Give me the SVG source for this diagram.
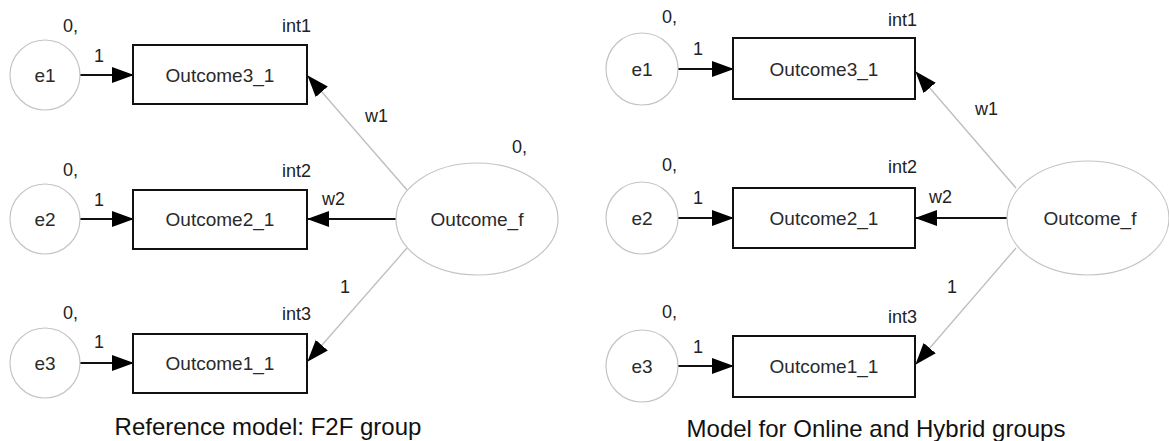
<svg xmlns="http://www.w3.org/2000/svg" width="1169" height="441" viewBox="0 0 1169 441">
<style>
text{font-family:"Liberation Sans",Arial,sans-serif;fill:#222}
.nl{font-size:19px;text-anchor:middle;fill:#2a2a2a}
.lb{font-size:18px}
.cap{font-size:24px;text-anchor:middle;fill:#111}
.lat{fill:#fff;stroke:#c4c4c4;stroke-width:1.2}
.obs{fill:#fff;stroke:#111;stroke-width:2}
.blk{stroke:#111;stroke-width:2;fill:none}
.gry{stroke:#bdbdbd;stroke-width:1.3;fill:none}
</style>
<defs>
<marker id="ah" viewBox="0 0 22 16" refX="21" refY="8" markerWidth="22" markerHeight="16" markerUnits="userSpaceOnUse" orient="auto">
<path d="M0,0 L22,8 L0,16 z" fill="#000"/>
</marker>
</defs>
<rect width="1169" height="441" fill="#fff"/>

<g id="connectors">
<line class="blk" x1="80" y1="75" x2="133" y2="75" marker-end="url(#ah)"/>
<line class="blk" x1="80" y1="219" x2="133" y2="219" marker-end="url(#ah)"/>
<line class="blk" x1="80" y1="363" x2="133" y2="363" marker-end="url(#ah)"/>
<line class="gry" x1="407" y1="190" x2="308" y2="76" marker-end="url(#ah)"/>
<line class="blk" x1="396" y1="219" x2="308" y2="219" marker-end="url(#ah)"/>
<line class="gry" x1="407" y1="248" x2="308" y2="361" marker-end="url(#ah)"/>
<line class="blk" x1="678" y1="69" x2="733" y2="69" marker-end="url(#ah)"/>
<line class="blk" x1="678" y1="218" x2="733" y2="218" marker-end="url(#ah)"/>
<line class="blk" x1="678" y1="366" x2="733" y2="366" marker-end="url(#ah)"/>
<line class="gry" x1="1016" y1="188" x2="916" y2="72" marker-end="url(#ah)"/>
<line class="blk" x1="1007" y1="218" x2="916" y2="218" marker-end="url(#ah)"/>
<line class="gry" x1="1016" y1="248" x2="916" y2="364" marker-end="url(#ah)"/>
</g>

<g id="edge-labels">
<text class="lb" x="94" y="62">1</text>
<text class="lb" x="94" y="206">1</text>
<text class="lb" x="94" y="348">1</text>
<text class="lb" x="365" y="122">w1</text>
<text class="lb" x="322" y="205">w2</text>
<text class="lb" x="340" y="293">1</text>
<text class="lb" x="693" y="55">1</text>
<text class="lb" x="693" y="204">1</text>
<text class="lb" x="693" y="353">1</text>
<text class="lb" x="975" y="115">w1</text>
<text class="lb" x="929" y="203">w2</text>
<text class="lb" x="947" y="293">1</text>
</g>

<g id="L-e1"><circle class="lat" cx="45" cy="75" r="35"/><text class="nl" x="45" y="82">e1</text><text class="lb" x="63" y="32">0,</text></g>
<g id="L-e2"><circle class="lat" cx="45" cy="219" r="35"/><text class="nl" x="45" y="226">e2</text><text class="lb" x="63" y="176">0,</text></g>
<g id="L-e3"><circle class="lat" cx="45" cy="363" r="35"/><text class="nl" x="45" y="370">e3</text><text class="lb" x="63" y="319">0,</text></g>
<g id="L-out3"><rect class="obs" x="133" y="45" width="174" height="59"/><text class="nl" x="220" y="82">Outcome3_1</text><text class="lb" x="282" y="32">int1</text></g>
<g id="L-out2"><rect class="obs" x="133" y="190" width="174" height="59"/><text class="nl" x="220" y="226">Outcome2_1</text><text class="lb" x="282" y="177">int2</text></g>
<g id="L-out1"><rect class="obs" x="133" y="334" width="174" height="59"/><text class="nl" x="220" y="370">Outcome1_1</text><text class="lb" x="282" y="320">int3</text></g>
<g id="L-outf"><ellipse class="lat" cx="477" cy="219" rx="81" ry="56"/><text class="nl" x="477" y="226">Outcome_f</text><text class="lb" x="512" y="153">0,</text></g>

<g id="R-e1"><circle class="lat" cx="642" cy="69" r="36"/><text class="nl" x="642" y="76">e1</text><text class="lb" x="662" y="23">0,</text></g>
<g id="R-e2"><circle class="lat" cx="642" cy="218" r="36"/><text class="nl" x="642" y="225">e2</text><text class="lb" x="662" y="171">0,</text></g>
<g id="R-e3"><circle class="lat" cx="642" cy="366" r="36"/><text class="nl" x="642" y="373">e3</text><text class="lb" x="662" y="318">0,</text></g>
<g id="R-out3"><rect class="obs" x="733" y="38" width="182" height="61"/><text class="nl" x="824" y="76">Outcome3_1</text><text class="lb" x="888" y="26">int1</text></g>
<g id="R-out2"><rect class="obs" x="733" y="188" width="182" height="60"/><text class="nl" x="824" y="225">Outcome2_1</text><text class="lb" x="888" y="173">int2</text></g>
<g id="R-out1"><rect class="obs" x="733" y="336" width="182" height="61"/><text class="nl" x="824" y="373">Outcome1_1</text><text class="lb" x="888" y="323">int3</text></g>
<g id="R-outf"><ellipse class="lat" cx="1088" cy="218" rx="81" ry="57"/><text class="nl" x="1090" y="225">Outcome_f</text></g>

<g id="captions">
<text class="cap" x="268" y="435">Reference model: F2F group</text>
<text class="cap" x="876" y="437">Model for Online and Hybrid groups</text>
</g>
</svg>
